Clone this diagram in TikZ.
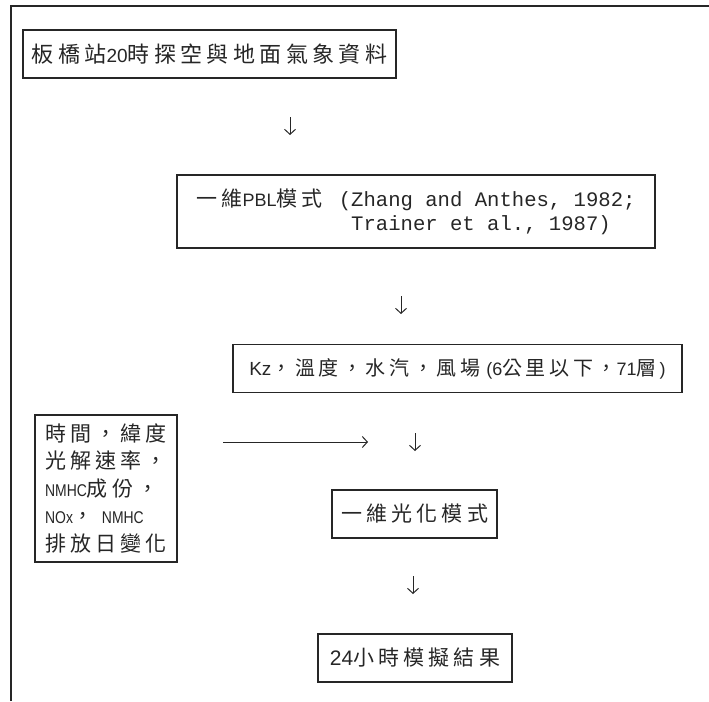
\documentclass[tikz,border=0pt]{standalone}
\usepackage{fontspec}
\usetikzlibrary{arrows.meta}
\newfontfamily\cj[LetterSpace=20]{Noto Sans CJK TC}
\newfontfamily\cjs[LetterSpace=18]{Noto Sans CJK TC}
\newfontfamily\lat{Liberation Sans}
\newfontfamily\latn[FakeStretch=0.82]{Liberation Sans}
\newfontfamily\mono{Liberation Mono}
\newcommand\latx[2]{{\lat\fontsize{#1}{24}\selectfont #2}}
\newcommand\latnx[2]{{\latn\fontsize{#1}{24}\selectfont #2}}
\newcommand\monox[1]{{\mono\fontsize{20.6}{24}\selectfont #1}}
\begin{document}
\begin{tikzpicture}[x=1pt,y=-1pt,
  box/.style={draw=black!85,line width=1.2pt,inner sep=0pt,align=left,text=black!85},
  arr/.style={draw=black!85,line width=1pt,-{Straight Barb[length=5pt,width=11pt]}}]
\useasboundingbox (0,0) rectangle (709,701);
% outer frame (top and left edges)
\coordinate (ftl) at (11,6);
\coordinate (ftr) at (709,6);
\coordinate (fbl) at (11,701);
\draw[black!85,line width=1.5pt] (fbl) -- (ftl) -- (ftr);
% boxes
\node[box,minimum width=373pt,minimum height=48pt,font=\fontsize{22}{26}\selectfont\cj] (b1) at (209.5,54)
  {板橋站\latx{19}{20}時探空與地面氣象資料};
\node[box,minimum width=478pt,minimum height=73pt,font=\fontsize{21}{24}\selectfont] (b2) at (416,211.5)
  {{\cj 一維}\latx{18}{PBL}{\cj 模式}\hspace{16pt}\monox{(Zhang and Anthes, 1982;}\\
   \phantom{{\cj 一維}\latx{18}{PBL}{\cj 模式}\hspace{16pt}\monox{(}}\monox{Trainer et al., 1987)}};
\node[box,minimum width=449pt,minimum height=48pt,font=\fontsize{20}{24}\selectfont\cjs] (b3) at (457.5,368.5)
  {\latx{19}{Kz}，溫度，水汽，風場\hspace{6pt}\latx{18}{(6}公里以下，\latx{18}{71}層\hspace{3pt}\latx{18}{)}};
\node[box,minimum width=142pt,minimum height=147pt,font=\fontsize{21}{27.5}\selectfont\cj] (b6) at (106,488.5)
  {時間，緯度\\光解速率，\\\latnx{17}{NMHC}成份，\\\latnx{17}{NOx}，\hspace{8pt}\latnx{17}{NMHC}\\排放日變化};
\node[box,minimum width=165pt,minimum height=48pt,font=\fontsize{21}{25}\selectfont\cj] (b4) at (414.5,514)
  {一維光化模式};
\node[box,minimum width=194pt,minimum height=48pt,font=\fontsize{21}{25}\selectfont\cj] (b5) at (415,658)
  {\latx{21}{24}小時模擬結果};
% arrows
\coordinate (a1s) at (290,117); \coordinate (a1e) at (290,135);
\coordinate (a2s) at (401,296); \coordinate (a2e) at (401,314);
\coordinate (a3s) at (415,433); \coordinate (a3e) at (415,451);
\coordinate (a4s) at (413,576); \coordinate (a4e) at (413,594);
\coordinate (hs) at (223,442); \coordinate (he) at (368,442);
\draw[arr] (a1s) -- (a1e);
\draw[arr] (a2s) -- (a2e);
\draw[arr] (a3s) -- (a3e);
\draw[arr] (a4s) -- (a4e);
\draw[arr] (hs) -- (he);
\end{tikzpicture}
\end{document}
